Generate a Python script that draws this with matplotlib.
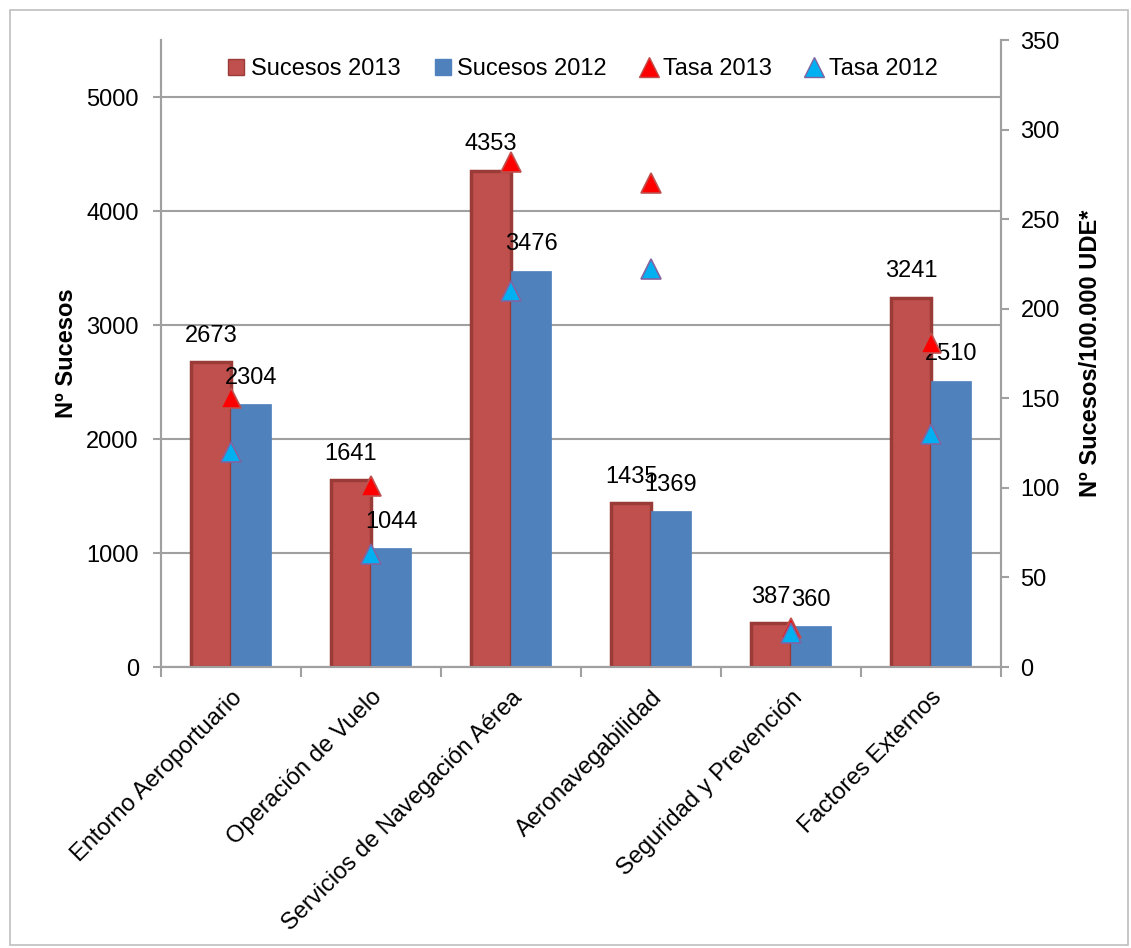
import numpy as np
import matplotlib
matplotlib.use("Agg")
import matplotlib.pyplot as plt
from matplotlib.patches import Rectangle
from matplotlib.lines import Line2D

plt.rcParams['font.family'] = ['Liberation Sans', 'DejaVu Sans']

# data
categories = ["Entorno Aeroportuario", "Operación de Vuelo", "Servicios de Navegación Aérea",
              "Aeronavegabilidad", "Seguridad y Prevención", "Factores Externos"]
sucesos_2013 = [2673, 1641, 4353, 1435, 387, 3241]
sucesos_2012 = [2304, 1044, 3476, 1369, 360, 2510]
tasa_2013 = [150, 101, 282, 270, 22, 181]
tasa_2012 = [120, 63, 210, 222, 19, 130]

RED = "#C0504D"
RED_EDGE = "#9B3B38"
BLUE = "#4F81BD"
GRID = "#A0A0A0"
FS = 17

fig = plt.figure(figsize=(11.31, 9.48), dpi=100)
fig.patches.append(Rectangle((0.009, 0.003), 0.988, 0.986, transform=fig.transFigure,
                             fill=False, edgecolor="#BFBFBF", linewidth=1.2))

ax = fig.add_axes([0.1424, 0.2964, 0.7427, 0.6614])
ax2 = ax.twinx()

x = np.arange(len(categories))
w = 0.2857

ax.bar(x - w / 2, sucesos_2013, width=w, color=RED, edgecolor=RED_EDGE, linewidth=2.5, zorder=2)
ax.bar(x + w / 2, sucesos_2012, width=w, color=BLUE, edgecolor=BLUE, linewidth=0.5, zorder=2)

for i in range(len(categories)):
    ax.annotate(str(sucesos_2013[i]), (x[i] - w / 2, sucesos_2013[i]), xytext=(0, 19),
                textcoords="offset points", ha="center", va="center", fontsize=FS, zorder=5)
    ax.annotate(str(sucesos_2012[i]), (x[i] + w / 2, sucesos_2012[i]), xytext=(0, 19),
                textcoords="offset points", ha="center", va="center", fontsize=FS, zorder=5)

ax2.plot(x, tasa_2013, linestyle="none", marker="^", markersize=15,
         markerfacecolor="#FF0000", markeredgecolor="#C0504D", markeredgewidth=1.2, zorder=4)
ax2.plot(x, tasa_2012, linestyle="none", marker="^", markersize=15,
         markerfacecolor="#00B0F0", markeredgecolor="#8064A2", markeredgewidth=1.2, zorder=4)

ax.set_xlim(-0.5, len(categories) - 0.5)
ax.set_ylim(0, 5500)
ax2.set_ylim(0, 350)
ax.set_yticks(np.arange(0, 5001, 1000))
ax2.set_yticks(np.arange(0, 351, 50))

ax.yaxis.grid(True, color=GRID, linewidth=1.5, zorder=0)
ax.set_axisbelow(True)

# x ticks: labels at centres, tick marks at boundaries
ax.set_xticks(x)
ax.set_xticklabels(categories, rotation=45, ha="right", rotation_mode="anchor", fontsize=FS)
ax.tick_params(axis="x", which="major", length=0, pad=14)
ax.set_xticks(np.arange(-0.5, len(categories)), minor=True)
ax.tick_params(axis="x", which="minor", length=7, width=1.5, color=GRID)

ax.tick_params(axis="y", labelsize=FS, length=6, width=1.5, color=GRID, pad=10)
ax2.tick_params(axis="y", labelsize=FS, length=6, width=1.5, color=GRID, pad=8)

for a in (ax, ax2):
    a.spines["top"].set_visible(False)
    for s in ("left", "right", "bottom"):
        a.spines[s].set_color(GRID)
        a.spines[s].set_linewidth(1.5)

ax.set_ylabel("Nº Sucesos", fontsize=FS, fontweight="bold", labelpad=6)
ax2.set_ylabel("Nº Sucesos/100.000 UDE*", fontsize=FS, fontweight="bold", labelpad=14)

handles = [
    Line2D([], [], linestyle="none", marker="s", markersize=12, markerfacecolor=RED, markeredgecolor=RED_EDGE),
    Line2D([], [], linestyle="none", marker="s", markersize=12, markerfacecolor=BLUE, markeredgecolor=BLUE),
    Line2D([], [], linestyle="none", marker="^", markersize=14, markerfacecolor="#FF0000", markeredgecolor="#C0504D"),
    Line2D([], [], linestyle="none", marker="^", markersize=14, markerfacecolor="#00B0F0", markeredgecolor="#8064A2"),
]
ax2.legend(handles, ["Sucesos 2013", "Sucesos 2012", "Tasa 2013", "Tasa 2012"],
           loc="center", bbox_to_anchor=(0.5, 0.954), ncol=4, frameon=False, fontsize=FS,
           handletextpad=0.1, columnspacing=1.3, handlelength=1.0)

fig.savefig("out.png", dpi=100)
